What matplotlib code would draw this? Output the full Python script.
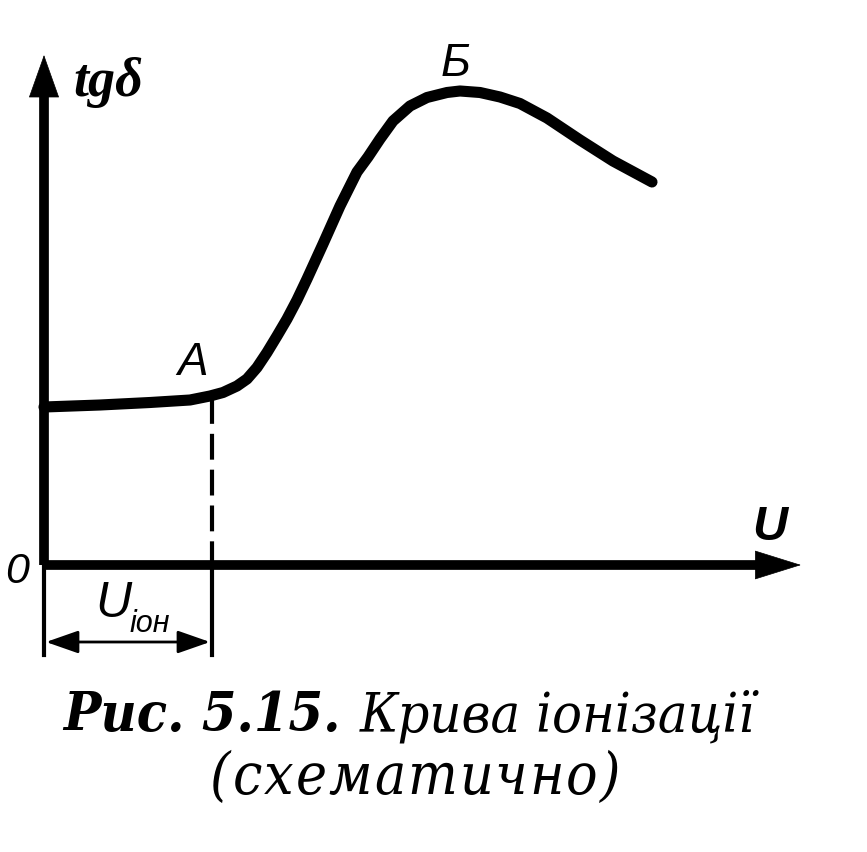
import matplotlib
matplotlib.use("Agg")
import matplotlib.pyplot as plt

# ---- data (schematic ionisation curve, arbitrary units) ----
u_vals = [0.00, 0.56, 1.06, 1.46, 1.66, 1.79, 1.93, 2.03, 2.13, 2.23, 2.33, 2.43,
          2.53, 2.63, 2.79, 2.96, 3.13, 3.24, 3.36, 3.49, 3.66, 3.83, 4.03, 4.16,
          4.36, 4.56, 4.76, 5.03, 5.36, 5.69, 6.08]
tg_vals = [1.58, 1.60, 1.625, 1.65, 1.69, 1.725, 1.79, 1.86, 1.975, 2.125, 2.29, 2.46,
           2.65, 2.86, 3.21, 3.59, 3.93, 4.08, 4.26, 4.44, 4.59, 4.675, 4.725, 4.74,
           4.725, 4.68, 4.615, 4.47, 4.25, 4.04, 3.83]
u_ion = 1.68          # point A abscissa
tg_A = 1.69
point_labels = ["A", "Б"]
caption_bold = "Рис. 5.15."
caption_rest = "Крива іонізації"
caption_line2 = "(схематично)"

W, H, DPI = 867, 853, 100
fig = plt.figure(figsize=(W / DPI, H / DPI), dpi=DPI)
ax = fig.add_axes([0, 0, 1, 1])
ox, oy = 44, 566        # pixel location of origin
ax.set_xlim(-ox / 100, (W - ox) / 100)
ax.set_ylim(-(H - oy) / 100, oy / 100)
ax.axis("off")


def P(x, y):
    """pixel (from top-left) -> data coords"""
    return ((x - ox) / 100, (oy - y) / 100)


K = "black"
# axes
ax.plot([0, 0], [P(0, 566)[1], P(0, 95)[1]], color=K, lw=7, solid_capstyle="butt")
ax.plot([0, P(758, 0)[0]], [0, 0], color=K, lw=7, solid_capstyle="butt")
ax.annotate("", xy=P(44, 56), xytext=P(44, 99),
            arrowprops=dict(arrowstyle="-|>,head_length=2.95,head_width=1.05",
                            mutation_scale=10, lw=0.5, fc=K, ec=K,
                            shrinkA=0, shrinkB=0))
ax.annotate("", xy=P(801, 566), xytext=P(755, 566),
            arrowprops=dict(arrowstyle="-|>,head_length=3.2,head_width=1.0",
                            mutation_scale=10, lw=0.5, fc=K, ec=K,
                            shrinkA=0, shrinkB=0))

# curve
ax.plot(u_vals, tg_vals, color=K, lw=8, solid_capstyle="round",
        solid_joinstyle="round")

# dashed drop from A
ax.plot([u_ion, u_ion], [tg_A - 0.02, 0], color=K, lw=3, linestyle=(0, (6.2, 2.4)))

# dimension lines below
ybot = P(0, 656)[1]
ax.plot([0, 0], [0, ybot], color=K, lw=3)
ax.plot([u_ion, u_ion], [0, ybot], color=K, lw=3)
yd = P(0, 643)[1]
ax.annotate("", xy=(0.02, yd), xytext=(u_ion - 0.02, yd),
            arrowprops=dict(arrowstyle="<|-|>,head_length=2.0,head_width=0.7",
                            mutation_scale=10, lw=2, fc=K, ec=K,
                            shrinkA=0, shrinkB=0))

# labels
sans = "Liberation Sans"
serif = "Liberation Serif"
ax.text(*P(73, 96), "tgδ", family=serif, style="italic", weight="bold",
        fontsize=39, ha="left", va="baseline")
ax.text(*P(193, 375), point_labels[0], family=sans, style="italic",
        fontsize=33, ha="center", va="baseline")
ax.text(*P(456, 76), point_labels[1], family=sans, style="italic",
        fontsize=33, ha="center", va="baseline")
ax.text(*P(770, 540), "U", family=sans, style="italic", weight="bold",
        fontsize=35, ha="center", va="baseline")
ax.text(*P(17, 583), "0", family=sans, style="italic",
        fontsize=31, ha="center", va="baseline")
ax.text(*P(95, 617), "U", family=sans, style="italic",
        fontsize=36, ha="left", va="baseline")
ax.text(*P(130, 632), "іон", family=sans, style="italic",
        fontsize=22, ha="left", va="baseline")

# caption
cfam = "DejaVu Serif"
stretch = "condensed"
fig.canvas.draw()
r = fig.canvas.get_renderer()


def width_of(s, size, **kw):
    t = ax.text(0, 0, s, family=cfam, style="italic", fontsize=size,
                fontstretch=stretch, **kw)
    w = t.get_window_extent(r).width
    t.remove()
    return w


s0 = 40
wb = width_of(caption_bold, s0, weight="bold")
wr = width_of(caption_rest, s0)
gap0 = 0.35 * s0 * DPI / 72
scale = min(1.15, (755 - 63) / (wb + wr + gap0))
s1 = s0 * scale
x0 = 409 - (wb + wr + gap0) * scale / 2
t1 = ax.text(*P(x0, 731), caption_bold, family=cfam, style="italic",
             weight="bold", fontsize=s1, fontstretch=stretch,
             ha="left", va="baseline")
bb = t1.get_window_extent(r)
ax.text(*P(bb.x1 + gap0 * scale, 731), caption_rest, family=cfam,
        style="italic", fontsize=s1, fontstretch=stretch,
        ha="left", va="baseline")

# second line with letter spacing
size2 = 42
widths = [width_of(ch, size2) for ch in caption_line2]
target = 375
track = max(2.0, (target - sum(widths)) / (len(widths) - 1))
total = sum(widths) + track * (len(widths) - 1)
x = 415 - total / 2
for ch, w in zip(caption_line2, widths):
    ax.text(*P(x, 794), ch, family=cfam, style="italic", fontsize=size2,
            fontstretch=stretch, ha="left", va="baseline")
    x += w + track

fig.savefig("out.png", dpi=DPI)
